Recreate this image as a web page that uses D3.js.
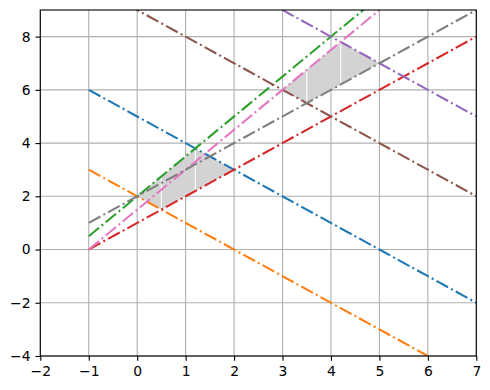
<!DOCTYPE html>
<html><head><meta charset="utf-8">
<script src="https://cdn.jsdelivr.net/npm/d3@7"></script>
<style>body{margin:0;background:#fff}</style>
</head><body>
<svg id="c" width="490" height="390"></svg>
<script>
// Line data: y = slope*x + intercept over x in [-1, 7]
const lineNames = ["blue","orange","green","red","purple","brown","pink","gray"];
const slopes = [-1, -1, 1.5, 1, -1, -1, 1.5, 1];
const intercepts = [5, 2, 2, 1, 12, 9, 1.5, 2];
const lineColors = ["#1f77b4","#ff7f0e","#2ca02c","#d62728","#9467bd","#8c564b","#e377c2","#7f7f7f"];
const xStart = -1, xEnd = 7;
// Shaded regions (polygon vertices)
const region1 = [[0,2],[0.5,1.5],[2,3],[1.2,3.8]];
const region2 = [[3,6],[3.5,5.5],[5,7],[4.2,7.8]];
// Segment boundaries inside regions (vertical seams)
const seamXs1 = [0.5, 1.2];
const seamXs2 = [3.5, 4.2];
const xTicks = [-2,-1,0,1,2,3,4,5,6,7];
const yTicks = [-4,-2,0,2,4,6,8];

const svg = d3.select("#c");
const L = 40.3, R = 476.3, T = 10, B = 356;
const x = d3.scaleLinear().domain([-2,7]).range([L,R]);
const y = d3.scaleLinear().domain([-4,9]).range([B,T]);

svg.append("defs").append("clipPath").attr("id","clip")
  .append("rect").attr("x",L).attr("y",T).attr("width",R-L).attr("height",B-T);

// grid
const g = svg.append("g");
g.selectAll(".gx").data(xTicks).enter().append("line")
  .attr("x1",d=>x(d)).attr("x2",d=>x(d)).attr("y1",T).attr("y2",B)
  .attr("stroke","#b0b0b0").attr("stroke-width",1.1);
g.selectAll(".gy").data(yTicks).enter().append("line")
  .attr("x1",L).attr("x2",R).attr("y1",d=>y(d)).attr("y2",d=>y(d))
  .attr("stroke","#b0b0b0").attr("stroke-width",1.1);

const plot = svg.append("g").attr("clip-path","url(#clip)");

// regions
function lineY(i, xv){ return slopes[i]*xv + intercepts[i]; }
[region1, region2].forEach(r=>{
  plot.append("path")
    .attr("d", d3.line().x(d=>x(d[0])).y(d=>y(d[1]))(r) + "Z")
    .attr("fill","#d3d3d3").attr("stroke","none");
});
// seams: vertical white lines spanning between bounding lines
function seam(xv, lo, hi){
  plot.append("line").attr("x1",x(xv)).attr("x2",x(xv))
    .attr("y1",y(lineY(lo,xv))).attr("y2",y(lineY(hi,xv)))
    .attr("stroke","#fff").attr("stroke-width",1.2).attr("opacity",0.9);
}
seamXs1.forEach(xv=>seam(xv, 3, 2)); // red to green
seamXs2.forEach(xv=>seam(xv, 7, 6)); // gray to pink

// lines
lineNames.forEach((n,i)=>{
  plot.append("line")
    .attr("x1",x(xStart)).attr("y1",y(lineY(i,xStart)))
    .attr("x2",x(xEnd)).attr("y2",y(lineY(i,xEnd)))
    .attr("stroke",lineColors[i]).attr("stroke-width",2.08)
    .attr("stroke-dasharray","13.3,3.33,2.08,3.33");
});

// axes
const fmt = d=>d<0?"\u2212"+Math.abs(d):d;
const xa = svg.append("g").attr("transform",`translate(0,${B})`)
  .call(d3.axisBottom(x).tickValues(xTicks).tickSize(4.86).tickPadding(4.9).tickFormat(fmt));
const ya = svg.append("g").attr("transform",`translate(${L},0)`)
  .call(d3.axisLeft(y).tickValues(yTicks).tickSize(4.86).tickPadding(4.9).tickFormat(fmt));
[xa,ya].forEach(a=>{
  a.select(".domain").remove();
  a.selectAll("line").attr("stroke","#000").attr("stroke-width",1.1);
  a.selectAll("text").attr("font-family","DejaVu Sans").attr("font-size","13.9px").attr("fill","#000");
});
// spines
svg.append("rect").attr("x",L).attr("y",T).attr("width",R-L).attr("height",B-T)
  .attr("fill","none").attr("stroke","#000").attr("stroke-width",1.1);
</script>
</body></html>
